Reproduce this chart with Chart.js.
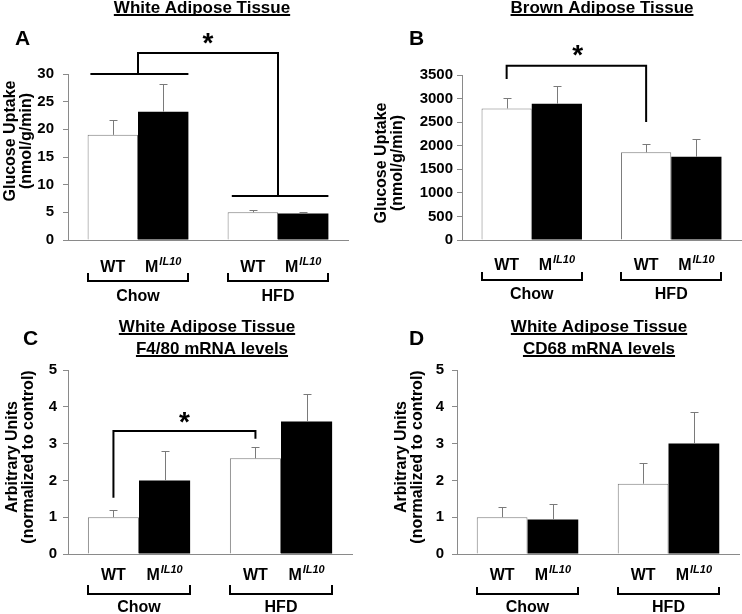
<!DOCTYPE html>
<html>
<head>
<meta charset="utf-8">
<script src="https://cdn.jsdelivr.net/npm/chart.js@4.4.1/dist/chart.umd.min.js"></script>
<style>
  html, body { margin: 0; padding: 0; background: #fff; }
  #fig { position: relative; width: 742px; height: 614px; overflow: hidden; }
  .panel { position: absolute; width: 371px; height: 307px; }
</style>
</head>
<body>
<div id="fig">
  <div class="panel" style="left:0;top:0"><canvas id="cA" width="371" height="307"></canvas></div>
  <div class="panel" style="left:371px;top:0"><canvas id="cB" width="371" height="307"></canvas></div>
  <div class="panel" style="left:0;top:307px"><canvas id="cC" width="371" height="307"></canvas></div>
  <div class="panel" style="left:371px;top:307px"><canvas id="cD" width="371" height="307"></canvas></div>
</div>
<script>
const groups = ['Chow', 'HFD'];
const seriesNames = ['WT', 'M'];
const seriesSup = ['', 'IL10'];

// A - white adipose glucose uptake (nmol/g/min)
const aWT = [19.0, 5.0];
const aWTErr = [2.6, 0.4];
const aMIL = [23.2, 4.8];
const aMILErr = [5.0, 0.3];

// B - brown adipose glucose uptake
const bWT = [2790, 1860];
const bWTErr = [230, 170];
const bMIL = [2890, 1765];
const bMILErr = [377, 370];

// C - F4/80 mRNA
const cWT = [1.0, 2.6];
const cWTErr = [0.2, 0.3];
const cMIL = [2.0, 3.6];
const cMILErr = [0.8, 0.75];

// D - CD68 mRNA
const dWT = [1.0, 1.91];
const dWTErr = [0.27, 0.57];
const dMIL = [0.94, 3.0];
const dMILErr = [0.41, 0.85];

const FONT = "'Liberation Sans', Arial, sans-serif";
const bold = s => `bold ${s}px ${FONT}`;
const W = 371, H = 307;

// ---------------- DECORATION PLUGIN ----------------
const panelDecor = {
  id: 'panelDecor',
  afterDatasetsDraw(chart, args, o) {
    const ctx = chart.ctx;
    const ys = chart.scales.y;
    ctx.save();
    // error bars (upper only)
    ctx.strokeStyle = '#7a7a7a';
    ctx.lineWidth = 1;
    o.errors.forEach((errs, di) => {
      const meta = chart.getDatasetMeta(di);
      meta.data.forEach((bar, i) => {
        const v = chart.data.datasets[di].data[i];
        const top = Math.round(ys.getPixelForValue(v + errs[i])) + 0.5;
        const x = Math.round(bar.x) + 0.5;
        ctx.beginPath();
        ctx.moveTo(x, bar.y);
        ctx.lineTo(x, top);
        ctx.moveTo(x - 4, top);
        ctx.lineTo(x + 4, top);
        ctx.stroke();
      });
    });
    ctx.restore();
  },
  afterDraw(chart, args, o) {
    const ctx = chart.ctx;
    const xs = chart.scales.x, ys = chart.scales.y;
    ctx.save();
    ctx.fillStyle = '#000';
    ctx.strokeStyle = '#000';

    // panel letter
    ctx.font = bold(21);
    ctx.textAlign = 'left';
    ctx.textBaseline = 'alphabetic';
    ctx.fillText(o.letter.text, o.letter.x, o.letter.y);

    // underlined titles
    ctx.font = bold(17);
    ctx.textAlign = 'center';
    o.titles.forEach(t => {
      ctx.fillText(t.text, t.x, t.y);
      const w = ctx.measureText(t.text).width;
      ctx.fillRect(t.x - w / 2, t.y + 1, w, 2);
    });

    // y axis title (rotated)
    ctx.font = bold(16);
    ctx.textBaseline = 'middle';
    o.yTitle.lines.forEach((line, i) => {
      ctx.save();
      ctx.translate(o.yTitle.x[i], o.yTitle.cy);
      ctx.rotate(-Math.PI / 2);
      ctx.fillText(line, 0, 0);
      ctx.restore();
    });
    ctx.textBaseline = 'alphabetic';

    // category labels under bars
    const m0 = chart.getDatasetMeta(0), m1 = chart.getDatasetMeta(1);
    [m0, m1].forEach((meta, di) => {
      meta.data.forEach(bar => {
        ctx.font = bold(16);
        const wMain = ctx.measureText(seriesNames[di]).width;
        ctx.font = `italic bold 11px ${FONT}`;
        const wSup = seriesSup[di] ? ctx.measureText(seriesSup[di]).width + 1 : 0;
        const x0 = bar.x - (wMain + wSup) / 2;
        ctx.textAlign = 'left';
        ctx.font = bold(16);
        ctx.fillText(seriesNames[di], x0, o.catY);
        if (seriesSup[di]) {
          ctx.font = `italic bold 11px ${FONT}`;
          ctx.fillText(seriesSup[di], x0 + wMain + 1, o.catY - 7);
        }
      });
    });

    // group brackets + labels
    ctx.lineWidth = 2;
    groups.forEach((g, i) => {
      const b0 = m0.data[i], b1 = m1.data[i];
      const xl = Math.round(b0.x - b0.width / 2), xr = Math.round(b1.x + b1.width / 2);
      ctx.beginPath();
      ctx.moveTo(xl, o.brTop);
      ctx.lineTo(xl, o.brY);
      ctx.lineTo(xr, o.brY);
      ctx.lineTo(xr, o.brTop);
      ctx.stroke();
      ctx.font = bold(16);
      ctx.textAlign = 'center';
      ctx.fillText(g, xs.getPixelForValue(i), o.groupY);
    });

    // significance brackets
    if (o.sig) {
      ctx.lineWidth = 2;
      o.sig.lines.forEach(pts => {
        ctx.beginPath();
        pts.forEach(([x, y], k) => {
          const px = xs.getPixelForValue(x), py = ys.getPixelForValue(y);
          k ? ctx.lineTo(px, py) : ctx.moveTo(px, py);
        });
        ctx.stroke();
      });
      ctx.font = bold(28);
      ctx.textAlign = 'center';
      const mt = ctx.measureText('*');
      const cy = ys.getPixelForValue(o.sig.star[1]);
      ctx.fillText('*', xs.getPixelForValue(o.sig.star[0]),
        cy + (mt.actualBoundingBoxAscent - mt.actualBoundingBoxDescent) / 2);
    }
    ctx.restore();
  }
};

// ---------------- PANEL BUILDER ----------------
function makePanel(id, p) {
  const ctx = document.getElementById(id).getContext('2d');
  return new Chart(ctx, {
    type: 'bar',
    data: {
      labels: groups,
      datasets: [
        { label: 'WT', data: p.wt, backgroundColor: '#ffffff', borderColor: '#7a7a7a', borderWidth: 1 },
        { label: 'MIL10', data: p.mil, backgroundColor: '#000000', borderColor: '#000000', borderWidth: 0 }
      ]
    },
    options: {
      responsive: false,
      animation: false,
      devicePixelRatio: 1,
      events: [],
      categoryPercentage: 0.72,
      barPercentage: 1.0,
      layout: { padding: { left: 0, top: p.area.t, right: W - p.area.r, bottom: 0 } },
      scales: {
        x: {
          grid: { display: false },
          border: { display: true, color: '#8a8a8a', width: 1 },
          ticks: { display: false },
          afterFit: s => { s.height = H - p.area.b; }
        },
        y: {
          min: 0,
          max: p.max,
          grid: { drawOnChartArea: false, drawTicks: true, tickLength: 5, color: '#8a8a8a' },
          border: { display: true, color: '#8a8a8a', width: 1 },
          ticks: {
            stepSize: p.step,
            color: '#000',
            font: { family: FONT, size: 15, weight: 'bold' },
            padding: p.tickPad,
            callback: v => String(v)
          },
          afterFit: s => { s.width = p.area.l; }
        }
      },
      plugins: {
        legend: { display: false },
        tooltip: { enabled: false },
        panelDecor: p.decor
      }
    },
    plugins: [panelDecor]
  });
}

makePanel('cA', {
  wt: aWT, mil: aMIL, max: 30, step: 5, tickPad: 9,
  area: { l: 68, r: 348, t: 74, b: 240 },
  decor: {
    errors: [aWTErr, aMILErr],
    letter: { text: 'A', x: 15, y: 45 },
    titles: [{ text: 'White Adipose Tissue', x: 202, y: 13 }],
    yTitle: { lines: ['Glucose Uptake', '(nmol/g/min)'], x: [11, 27], cy: 141 },
    catY: 272, brTop: 273, brY: 281, groupY: 301,
    sig: {
      lines: [
        [[-0.34, 30], [0.36, 30]],
        [[0.67, 7.95], [1.36, 7.95]],
        [[0, 30], [0, 33.8], [1, 33.8], [1, 7.95]]
      ],
      star: [0.5, 36.5]
    }
  }
});

makePanel('cB', {
  wt: bWT, mil: bMIL, max: 3500, step: 500, tickPad: 4,
  area: { l: 91, r: 370, t: 75, b: 240 },
  decor: {
    errors: [bWTErr, bMILErr],
    letter: { text: 'B', x: 38, y: 45 },
    titles: [{ text: 'Brown Adipose Tissue', x: 231, y: 13 }],
    yTitle: { lines: ['Glucose Uptake', '(nmol/g/min)'], x: [10.5, 27], cy: 163 },
    catY: 270, brTop: 272, brY: 280, groupY: 299,
    sig: {
      lines: [[[-0.18, 3415], [-0.18, 3697], [0.82, 3697], [0.82, 2503]]],
      star: [0.33, 4030]
    }
  }
});

makePanel('cC', {
  wt: cWT, mil: cMIL, max: 5, step: 1, tickPad: 6,
  area: { l: 68, r: 352, t: 63, b: 247 },
  decor: {
    errors: [cWTErr, cMILErr],
    letter: { text: 'C', x: 23, y: 38 },
    titles: [
      { text: 'White Adipose Tissue', x: 207, y: 25 },
      { text: 'F4/80 mRNA levels', x: 212, y: 47 }
    ],
    yTitle: { lines: ['Arbitrary Units', '(normalized to control)'], x: [12.5, 28.5], cy: 150 },
    catY: 273, brTop: 278, brY: 287, groupY: 305,
    sig: {
      lines: [[[-0.18, 1.53], [-0.18, 3.34], [0.82, 3.34], [0.82, 3.13]]],
      star: [0.32, 3.72]
    }
  }
});

makePanel('cD', {
  wt: dWT, mil: dMIL, max: 5, step: 1, tickPad: 8,
  area: { l: 86, r: 368, t: 63, b: 247 },
  decor: {
    errors: [dWTErr, dMILErr],
    letter: { text: 'D', x: 38, y: 38 },
    titles: [
      { text: 'White Adipose Tissue', x: 228, y: 25 },
      { text: 'CD68 mRNA levels', x: 228, y: 47 }
    ],
    yTitle: { lines: ['Arbitrary Units', '(normalized to control)'], x: [30.5, 46.5], cy: 150 },
    catY: 273, brTop: 280, brY: 287, groupY: 305
  }
});
</script>
</body>
</html>
